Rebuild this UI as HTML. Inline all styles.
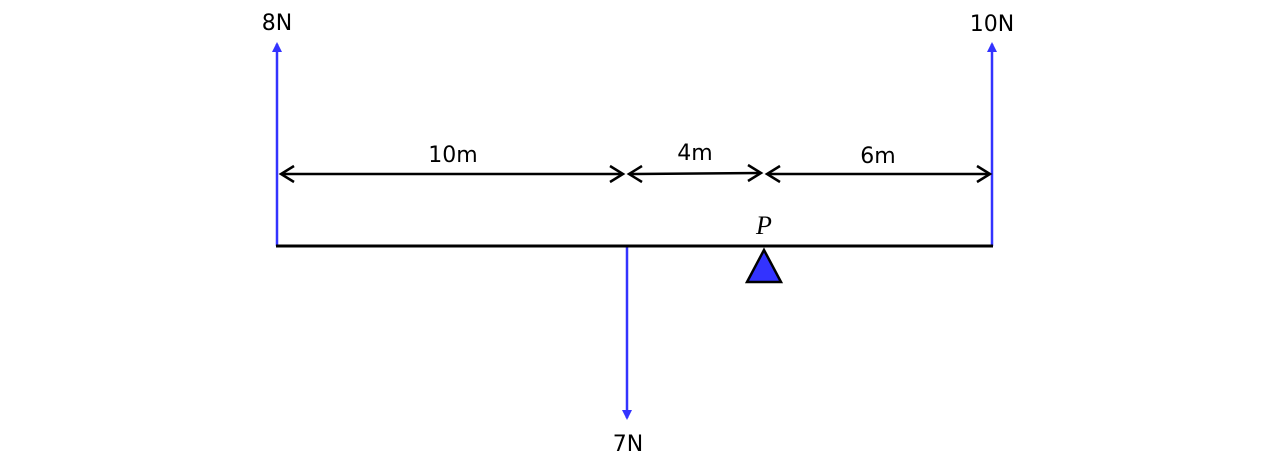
<!DOCTYPE html>
<html><head><meta charset="utf-8"><style>
html,body{margin:0;padding:0;background:#fff;width:1280px;height:460px;overflow:hidden}
text{font-family:"DejaVu Sans","Liberation Sans",sans-serif;font-size:22px;fill:#000}
</style></head><body>
<svg width="1280" height="460" viewBox="0 0 1280 460" xmlns="http://www.w3.org/2000/svg">
<defs>
<marker id="bh" markerWidth="10" markerHeight="10" refX="8" refY="5" orient="auto" markerUnits="userSpaceOnUse">
<path d="M0,0 L10,5 L0,10 Z" fill="#3333ff"/></marker>
</defs>
<line x1="277" y1="246" x2="277" y2="44" stroke="#3333ff" stroke-width="2.5" marker-end="url(#bh)"/>
<line x1="992" y1="246" x2="992" y2="44" stroke="#3333ff" stroke-width="2.5" marker-end="url(#bh)"/>
<line x1="627" y1="246" x2="627" y2="418" stroke="#3333ff" stroke-width="2.5" marker-end="url(#bh)"/>
<line x1="276" y1="246" x2="993" y2="246" stroke="#000" stroke-width="3"/>
<polygon points="764,250 747,282 781,282" fill="#3333ff" stroke="#000" stroke-width="2.5"/>
<g stroke="#000" stroke-width="2.5" fill="none">
<line x1="281" y1="174" x2="623" y2="174"/>
<path d="M294,166 L281,174 L294,182"/><path d="M610,166 L623,174 L610,182"/>
<line x1="629" y1="174" x2="761" y2="173"/>
<path d="M642,166 L629,174 L642,182"/><path d="M748,165 L761,173 L748,181"/>
<line x1="767" y1="174" x2="990" y2="174"/>
<path d="M780,166 L767,174 L780,182"/><path d="M977,166 L990,174 L977,182"/>
</g>
<text x="277" y="30" text-anchor="middle">8N</text>
<text x="992" y="31" text-anchor="middle">10N</text>
<text x="628" y="451" text-anchor="middle">7N</text>
<text x="453" y="162" text-anchor="middle">10m</text>
<text x="695" y="160" text-anchor="middle">4m</text>
<text x="878" y="163" text-anchor="middle">6m</text>
<text x="764" y="234" text-anchor="middle" style="font-family:'Liberation Serif',serif;font-style:italic;font-size:26px">P</text>
</svg>
</body></html>
